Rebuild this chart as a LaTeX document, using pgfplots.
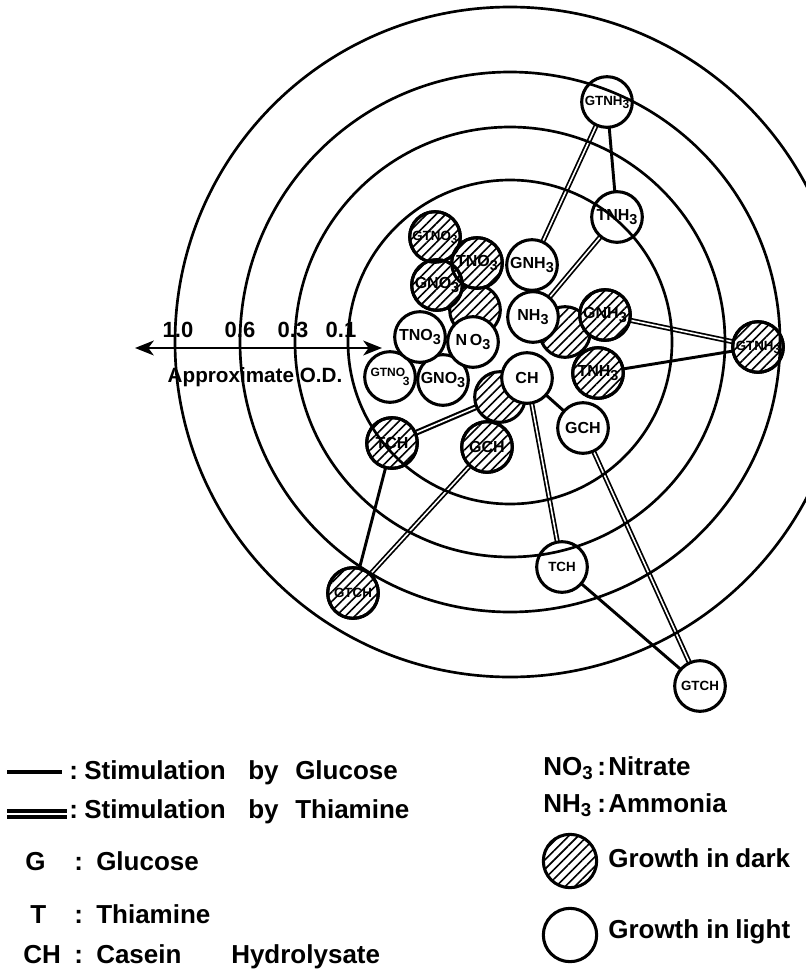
\documentclass[border=0pt]{standalone}
\usepackage{fontspec}
\setmainfont{Liberation Sans}
\usepackage{pgfplots}
\pgfplotsset{compat=1.18}
\usepackage{pgfplotstable}
\usetikzlibrary{patterns.meta,arrows.meta}

% subscript 3 as used in the circle labels
\protected\def\three{\raisebox{-0.45ex}{\scalebox{0.9}{3}}}
\protected\def\lthree{\raisebox{-0.3ex}{\scalebox{0.72}{3}}}
\protected\def\sm{\fontsize{10}{10}\selectfont}
\protected\def\gtnoiii{\fontsize{9}{9}\selectfont GTNO\kern-0.2em\raisebox{-1.5ex}{3}}

% circle centres (x to the right, y downwards)
\pgfplotstableread[col sep=comma]{
x,y,label
475,310,-
565,332,-
500,397,-
}\darkbase

\pgfplotstableread[col sep=comma]{
x,y,label
477,263,TNO\three
435,237,\sm GTNO\three
437,285,GNO\three
605,315,GNH\three
598,373,TNH\three
758,347,\sm GTNH\three
487,447,GCH
392,443,TCH
353,593,\sm GTCH
}\darklab

\pgfplotstableread[col sep=comma]{
x,y,label
390,377,\gtnoiii
443,380,GNO\three
420,337,TNO\three
473,342,N\,O\three
532,265,GNH\three
533,317,NH\three
527,378,CH
583,428,GCH
617,217,TNH\three
607,102,\sm GTNH\three
562,567,\sm TCH
700,686,\sm GTCH
}\light

\pgfplotsset{
  glu/.style={line width=2.2pt, mark=none},
  thia/.style={double, double distance=1.2pt, line width=1.3pt, mark=none},
}
\tikzset{
  litenode/.style={circle, draw, line width=2.3pt, fill=white, minimum size=38pt,
    inner sep=0pt, anchor=center, font=\fontsize{12}{12}\selectfont\bfseries},
  hatchnode/.style={circle, draw, line width=2.3pt, minimum size=38pt,
    inner sep=0pt, anchor=center,
    pattern={Lines[angle=45,distance=5pt,line width=1.2pt]}},
}

\begin{document}
\begin{tikzpicture}
\begin{axis}[
  x=0.75pt, y=0.75pt, y dir=reverse,
  xmin=0, xmax=806, ymin=0, ymax=971,
  hide axis, clip=false,
]
% stimulation by glucose
\addplot[glu] coordinates {(607,102) (617,217)};
\addplot[glu] coordinates {(598,373) (758,347)};
\addplot[glu] coordinates {(527,378) (583,428)};
\addplot[glu] coordinates {(392,443) (353,593)};
\addplot[glu] coordinates {(562,567) (700,686)};
% stimulation by thiamine
\addplot[thia] coordinates {(532,265) (607,102)};
\addplot[thia] coordinates {(533,317) (617,217)};
\addplot[thia] coordinates {(605,315) (758,347)};
\addplot[thia, line width=1.6pt] coordinates {(500,397) (392,443)};
\addplot[thia] coordinates {(487,447) (353,593)};
\addplot[thia] coordinates {(527,378) (562,567)};
\addplot[thia] coordinates {(583,428) (700,686)};

% growth in dark: basal media
\addplot[draw=none, mark=none, point meta=explicit symbolic,
  nodes near coords={\makebox[0pt]{}},
  every node near coord/.style={hatchnode, preaction={fill=white}}]
  table[x=x,y=y,meta=label]{\darkbase};
% growth in dark: supplemented media
\addplot[draw=none, mark=none, point meta=explicit symbolic,
  nodes near coords={\makebox[0pt]{\pgfplotspointmeta}},
  every node near coord/.style={litenode}]
  table[x=x,y=y,meta=label]{\darklab};
\addplot[draw=none, mark=none, point meta=explicit symbolic,
  nodes near coords={\makebox[0pt]{}},
  every node near coord/.style={hatchnode}]
  table[x=x,y=y,meta=label]{\darklab};
% growth in light
\addplot[draw=none, mark=none, point meta=explicit symbolic,
  nodes near coords={\makebox[0pt]{\pgfplotspointmeta}},
  every node near coord/.style={litenode}]
  table[x=x,y=y,meta=label]{\light};

% O.D. rings: 1.0, 0.6, 0.3, 0.1
\addplot[only marks, mark=o, mark size=251.25pt, mark options={line width=2pt}] coordinates {(510,342)};
\addplot[only marks, mark=o, mark size=202.5pt, mark options={line width=2pt}] coordinates {(510,342)};
\addplot[only marks, mark=o, mark size=161.25pt, mark options={line width=2pt}] coordinates {(510,342)};
\addplot[only marks, mark=o, mark size=121.5pt, mark options={line width=2pt}] coordinates {(510,342)};

% O.D. scale
\addplot[<->, >={Stealth[length=14pt,width=11pt,inset=4pt]}, line width=2.2pt, mark=none]
  coordinates {(135,348) (382,348)};
\begin{scope}[every node/.style={inner sep=0pt, font=\fontsize{16.5}{16.5}\selectfont\bfseries}]
\node at (axis cs:178,330) {1.0};
\node at (axis cs:240,330) {0.6};
\node at (axis cs:293,330) {0.3};
\node at (axis cs:341,330) {0.1};
\node[font=\fontsize{15.5}{15.5}\selectfont\bfseries] at (axis cs:255,377) {Approximate O.D.};
\end{scope}

% key
\addplot[line width=3.4pt, mark=none] coordinates {(7,772) (62,772)};
\addplot[double, double distance=2pt, line width=2.4pt, mark=none] coordinates {(7,814) (67,814)};
\addplot[draw=none, mark=none, point meta=explicit symbolic,
  nodes near coords={\makebox[0pt]{}},
  every node near coord/.style={hatchnode, minimum size=40pt, preaction={fill=white}}]
  coordinates {(570,861) [-]};
\addplot[draw=none, mark=none, point meta=explicit symbolic,
  nodes near coords={\makebox[0pt]{}},
  every node near coord/.style={litenode, minimum size=40pt}]
  coordinates {(570,935) [-]};

\begin{scope}[every node/.style={inner sep=0pt, anchor=base west, font=\fontsize{19.5}{19.5}\selectfont\bfseries}]
\node at (axis cs:69,779) {:};
\node at (axis cs:84,779) {Stimulation};
\node at (axis cs:248,779) {by};
\node at (axis cs:295,779) {Glucose};
\node at (axis cs:69,818) {:};
\node at (axis cs:84,818) {Stimulation};
\node at (axis cs:248,818) {by};
\node at (axis cs:295,818) {Thiamine};
\node at (axis cs:25,870) {G};
\node at (axis cs:74,870) {:};
\node at (axis cs:96,870) {Glucose};
\node at (axis cs:30,923) {T};
\node at (axis cs:74,923) {:};
\node at (axis cs:96,923) {Thiamine};
\node at (axis cs:23,963) {CH};
\node at (axis cs:74,963) {:};
\node at (axis cs:96,963) {Casein};
\node at (axis cs:231,963) {Hydrolysate};
\node at (axis cs:543,775) {NO\lthree};
\node at (axis cs:597,775) {:};
\node at (axis cs:608,775) {Nitrate};
\node at (axis cs:543,812) {NH\lthree};
\node at (axis cs:597,812) {:};
\node at (axis cs:608,812) {Ammonia};
\node at (axis cs:608,867) {Growth};
\node at (axis cs:706,867) {in};
\node at (axis cs:735,867) {dark};
\node at (axis cs:608,938) {Growth};
\node at (axis cs:706,938) {in};
\node at (axis cs:735,938) {light};
\end{scope}
\end{axis}
\pgfresetboundingbox
\path (current axis.south west) rectangle (current axis.north east);
\end{tikzpicture}
\end{document}
